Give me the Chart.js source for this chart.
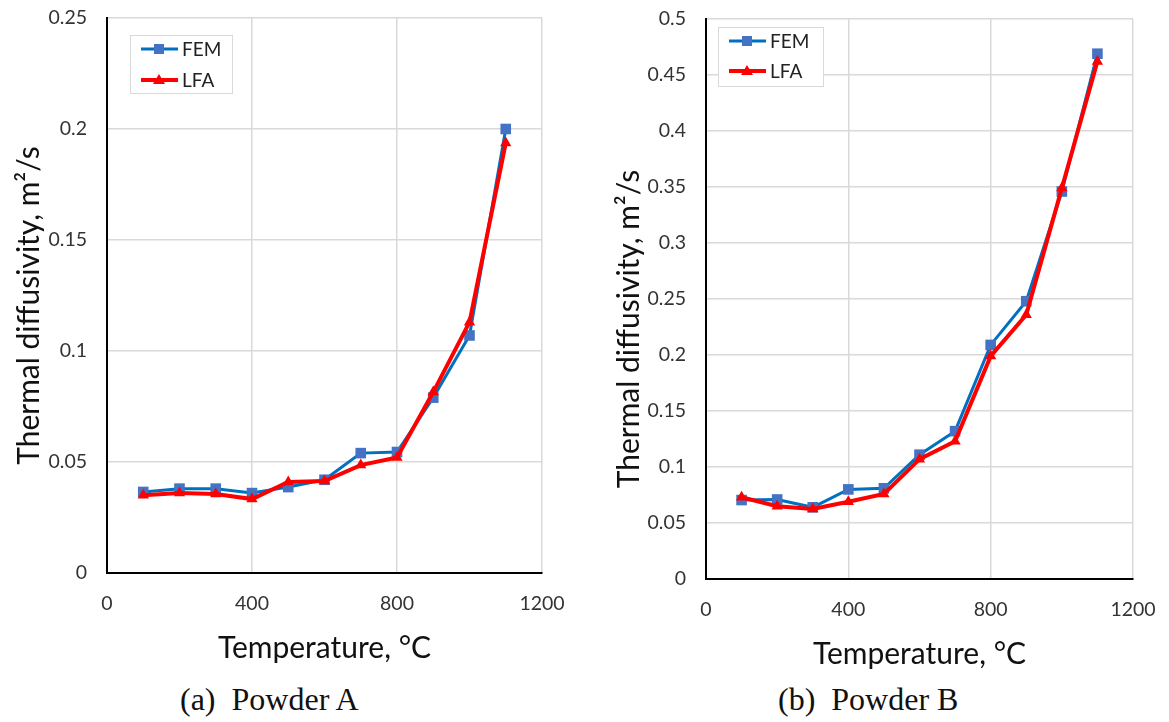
<!DOCTYPE html>
<html>
<head>
<meta charset="utf-8">
<script src="https://cdn.jsdelivr.net/npm/chart.js@4.4.1/dist/chart.umd.min.js"></script>
<style>
  body { margin: 0; background: #fff; width: 1169px; height: 722px; position: relative; overflow: hidden; }
  .box { position: absolute; top: 0; }
  .cap { position: absolute; top: 683px; font-family: "Liberation Serif", serif; font-size: 32px; line-height: 32px; color: #111; white-space: pre; }
</style>
</head>
<body>
<div class="box" style="left:0;width:580px;height:672px"><canvas id="chartA"></canvas></div>
<div class="box" style="left:600px;width:569px;height:672px"><canvas id="chartB"></canvas></div>
<div class="cap" style="left:180px">(a)  Powder A</div>
<div class="cap" style="left:778px">(b)  Powder B</div>
<script>
// temperatures, °C
const temps = [100, 200, 300, 400, 500, 600, 700, 800, 900, 1000, 1100];

// Powder A, m2/s
const femA = [0.0365, 0.038, 0.038, 0.036, 0.0387, 0.042, 0.054, 0.0545, 0.079, 0.107, 0.200];
const lfaA = [0.035, 0.036, 0.0356, 0.0333, 0.041, 0.0414, 0.0486, 0.052, 0.0815, 0.113, 0.1937];

// Powder B, m2/s
const femB = [0.0705, 0.071, 0.064, 0.080, 0.081, 0.111, 0.132, 0.209, 0.248, 0.346, 0.469];
const lfaB = [0.073, 0.065, 0.0625, 0.069, 0.076, 0.107, 0.123, 0.199, 0.236, 0.349, 0.462];

const xTicks = [0, 400, 800, 1200];
const xTitle = "Temperature, °C";
const yTitle = "Thermal diffusivity, m²/s";

const FONT = "Lato, 'Open Sans', sans-serif";

const toPts = (vals) => vals.map((v, i) => ({ x: temps[i], y: v }));

// legend drawn inside the plot, in a thin grey frame
const boxLegend = {
  id: "boxLegend",
  afterDraw(chart, args, opts) {
    const { ctx, chartArea } = chart;
    const x = chartArea.left + opts.x;
    const y = chartArea.top + opts.y;
    ctx.save();
    ctx.fillStyle = "#fff";
    ctx.fillRect(x, y, opts.w, opts.h);
    ctx.strokeStyle = "#d9d9d9";
    ctx.lineWidth = 1;
    ctx.strokeRect(x + 0.5, y + 0.5, opts.w, opts.h);
    chart.data.datasets.forEach((ds, i) => {
      const cy = y + opts.row0 + i * opts.rowGap;
      ctx.strokeStyle = ds.borderColor;
      ctx.lineWidth = ds.borderWidth;
      ctx.beginPath();
      ctx.moveTo(x + 11, cy);
      ctx.lineTo(x + 48, cy);
      ctx.stroke();
      const mx = x + 29;
      ctx.fillStyle = ds.pointBackgroundColor;
      if (ds.pointStyle === "rect") {
        ctx.fillRect(mx - 5, cy - 5, 10, 10);
      } else {
        ctx.beginPath();
        ctx.moveTo(mx, cy - 6);
        ctx.lineTo(mx + 6, cy + 4);
        ctx.lineTo(mx - 6, cy + 4);
        ctx.closePath();
        ctx.fill();
      }
      ctx.fillStyle = "#222";
      ctx.font = "19px " + FONT;
      ctx.textBaseline = "middle";
      ctx.textAlign = "left";
      ctx.fillText(ds.label, x + 52, cy + 1);
    });
    ctx.restore();
  }
};

// y title, rotated, sitting a little below the middle of the plot like the original
const yTitlePlugin = {
  id: "yTitleText",
  afterDraw(chart, args, opts) {
    const { ctx, chartArea } = chart;
    ctx.save();
    ctx.translate(opts.x, (chartArea.top + chartArea.bottom) / 2 + opts.dy);
    ctx.rotate(-Math.PI / 2);
    ctx.font = "30px " + FONT;
    ctx.fillStyle = "#111";
    ctx.textAlign = "center";
    ctx.textBaseline = "middle";
    ctx.fillText(yTitle, 0, 0);
    ctx.restore();
  }
};

function makeChart(id, fem, lfa, yMax, geo) {
  const ctx = document.getElementById(id).getContext("2d");
  return new Chart(ctx, {
    type: "line",
    data: {
      datasets: [
        {
          label: "FEM",
          data: toPts(fem),
          borderColor: "#0070C0",
          borderWidth: 3,
          pointStyle: "rect",
          pointRadius: 7.5,
          pointBackgroundColor: "#4472C4",
          pointBorderColor: "#4472C4",
          pointBorderWidth: 0,
          order: 1,
        },
        {
          label: "LFA",
          data: toPts(lfa),
          borderColor: "#FF0000",
          borderWidth: 4,
          pointStyle: "triangle",
          pointRadius: 6.5,
          pointBackgroundColor: "#FF0000",
          pointBorderColor: "#FF0000",
          pointBorderWidth: 0,
          order: 0,
        },
      ],
    },
    options: {
      responsive: true,
      maintainAspectRatio: false,
      animation: false,
      layout: { padding: { left: 0, top: geo.top, right: geo.right, bottom: 0 } },
      plugins: {
        legend: { display: false },
        tooltip: { enabled: false },
        boxLegend: geo.legend,
        yTitleText: geo.yTitle,
      },
      scales: {
        x: {
          type: "linear",
          min: 0,
          max: 1200,
          afterBuildTicks: (s) => { s.ticks = xTicks.map((v) => ({ value: v })); },
          afterFit: (s) => { s.height = geo.xHeight; s.paddingLeft = 0; s.paddingRight = 0; },
          grid: { color: "#d9d9d9", lineWidth: 1.5, drawTicks: false },
          border: { color: "#000", width: 2 },
          ticks: {
            padding: 19, color: "#333", font: { family: FONT, size: 19.5 },
            callback: (v) => String(v),
          },
          title: {
            display: true,
            text: xTitle,
            color: "#111",
            font: { family: FONT, size: 30 },
            padding: { top: 0, bottom: geo.xTitlePad },
          },
        },
        y: {
          min: 0,
          max: yMax,
          ticks: {
            stepSize: 0.05, padding: 20, color: "#333", font: { family: FONT, size: 19.5 },
            callback: (v) => String(+v.toFixed(2)),
          },
          afterFit: (s) => { s.width = geo.yWidth; s.paddingTop = 0; s.paddingBottom = 0; },
          grid: { color: "#d9d9d9", lineWidth: 1.5, drawTicks: false },
          border: { color: "#000", width: 2 },
        },
      },
    },
    plugins: [boxLegend, yTitlePlugin],
  });
}

makeChart("chartA", femA, lfaA, 0.25, {
  top: 18, right: 38, xHeight: 99, yWidth: 107, xTitlePad: 6,
  yTitle: { x: 29, dy: 10 },
  legend: { x: 23, y: 17, w: 102, h: 58, row0: 14, rowGap: 31 },
});

makeChart("chartB", femB, lfaB, 0.5, {
  top: 19, right: 36, xHeight: 93, yWidth: 106, xTitlePad: 0,
  yTitle: { x: 29, dy: 30 },
  legend: { x: 12, y: 8, w: 105, h: 59, row0: 14, rowGap: 30 },
});
</script>
</body>
</html>
